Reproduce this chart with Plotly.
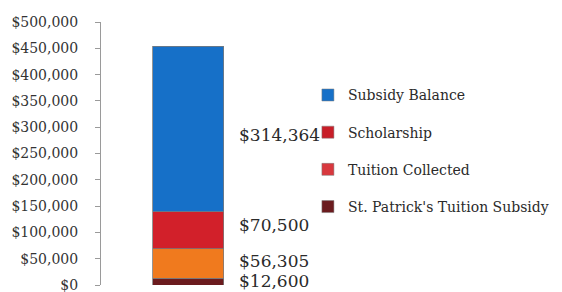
import plotly.graph_objects as go

categories = ["St. Patrick's Tuition Subsidy", "Tuition Collected", "Scholarship", "Subsidy Balance"]
values = [12600, 56305, 70500, 314364]
labels = ["$12,600", "$56,305", "$70,500", "$314,364"]
colors = ["#6b1b1e", "#f07a1e", "#d2202a", "#1670c8"]
legend_colors = ["#6b1b1e", "#d8383e", "#c81e28", "#1670c8"]
legend_ranks = [4, 3, 2, 1]

fig = go.Figure()
for name, v, c in zip(categories, values, colors):
    fig.add_trace(go.Bar(
        x=[0], y=[v], name=name, width=1, showlegend=False,
        marker=dict(color=c, line=dict(color="#7a7a7a", width=0.8)),
        hoverinfo="skip",
    ))
# legend entries (icon colours as shown in the reference legend)
for name, lc, rk in zip(categories, legend_colors, legend_ranks):
    fig.add_trace(go.Bar(
        x=[None], y=[None], name=name, showlegend=True,
        marker=dict(color=lc, line=dict(color="#7a7a7a", width=0.5)),
        legendgroup=name, legendrank=rk, hoverinfo="skip",
    ))

cum = 0
yshifts = [1, 3, 5, -6]
for v, lab, ys in zip(values, labels, yshifts):
    mid = cum + v / 2
    cum += v
    fig.add_annotation(x=0.5, y=mid, xref="x", yref="y", text=lab, showarrow=False,
                       xanchor="left", yanchor="middle", xshift=13, yshift=ys,
                       font=dict(family="DejaVu Serif", size=17, color="#2a2a2a"))

fig.update_layout(
    width=562, height=292,
    barmode="stack",
    margin=dict(l=101, r=252, t=22, b=7, autoexpand=False),
    paper_bgcolor="white", plot_bgcolor="white",
    showlegend=True,
    legend=dict(x=0.99, xanchor="left", y=0.51, yanchor="middle",
                traceorder="grouped", tracegroupgap=16, itemwidth=30,
                font=dict(family="DejaVu Serif", size=14, color="#2a2a2a"),
                bgcolor="rgba(0,0,0,0)"),
    xaxis=dict(range=[-1.232, 1.712], showticklabels=False, showline=False,
               showgrid=False, zeroline=False, ticks="", automargin=False),
    yaxis=dict(range=[0, 500000], dtick=50000, tickprefix="$", tickformat=",",
               showgrid=False, zeroline=False, showline=True, linecolor="#9a9a9a",
               linewidth=1, ticks="outside", ticklen=5, tickcolor="#9a9a9a",
               ticklabelstandoff=14, automargin=False, ticklabeloverflow="allow",
               tickfont=dict(family="DejaVu Serif", size=14, color="#333333")),
)

fig.write_html("out.html", config={"displayModeBar": False},
               post_script="document.body.style.margin='0';")
